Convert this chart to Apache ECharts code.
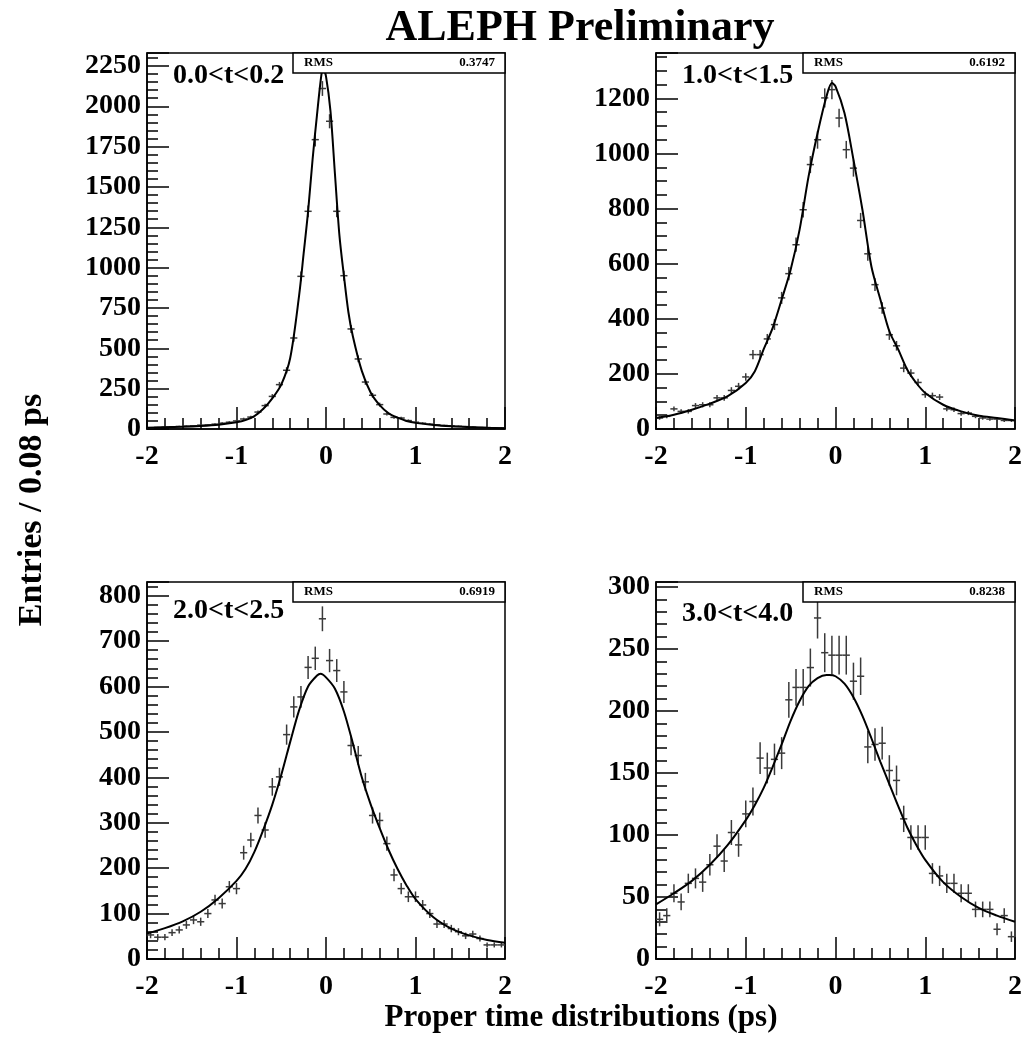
<!DOCTYPE html>
<html>
<head>
<meta charset="utf-8">
<title>ALEPH Preliminary</title>
<script src="https://cdn.jsdelivr.net/npm/echarts@6/dist/echarts.min.js"></script>
<style>
	html, body { margin: 0; padding: 0; background: #fff; }
	#main { width: 1025px; height: 1044px; }
</style>
</head>
<body>
<div id="main"></div>
<script>
// 直方图 bin 中心 (bin 宽 0.08 ps)
var binCenters = [-1.96, -1.88, -1.80, -1.72, -1.64, -1.56, -1.48, -1.40, -1.32, -1.24,
	-1.16, -1.08, -1.00, -0.92, -0.84, -0.76, -0.68, -0.60, -0.52, -0.44,
	-0.36, -0.28, -0.20, -0.12, -0.04, 0.04, 0.12, 0.20, 0.28, 0.36,
	0.44, 0.52, 0.60, 0.68, 0.76, 0.84, 0.92, 1.00, 1.08, 1.16,
	1.24, 1.32, 1.40, 1.48, 1.56, 1.64, 1.72, 1.80, 1.88, 1.96];

var panelLabels = ['0.0<t<0.2', '1.0<t<1.5', '2.0<t<2.5', '3.0<t<4.0'];
var rmsValues = ['0.3747', '0.6192', '0.6919', '0.8238'];

// 每个 bin 的计数
var entries1 = [8, 10, 12, 14, 16, 18, 20, 24, 26, 30,
	36, 42, 50, 62, 74, 105, 145, 202, 275, 364,
	564, 946, 1349, 1793, 2110, 1907, 1349, 950, 620, 434,
	291, 209, 151, 93, 72, 68, 52, 42, 36, 30,
	26, 22, 20, 17, 15, 12, 10, 9, 7, 6];
var entries2 = [40, 46, 73, 64, 64, 85, 88, 88, 113, 113,
	140, 155, 189, 270, 270, 327, 379, 476, 564, 669,
	796, 960, 1050, 1202, 1232, 1129, 1014, 947, 757, 636,
	524, 439, 342, 302, 221, 203, 169, 125, 121, 116,
	73, 70, 56, 58, 46, 40, 36, 36, 31, 31];
var entries3 = [53, 48, 48, 58, 64, 75, 86, 82, 100, 130,
	122, 159, 155, 234, 262, 316, 284, 379, 401, 494,
	555, 577, 642, 662, 749, 657, 635, 588, 470, 448,
	390, 316, 305, 254, 185, 155, 137, 137, 119, 100,
	77, 77, 67, 60, 51, 55, 45, 31, 31, 31];
var entries4 = [32, 35, 53, 46, 61, 65, 62, 76, 91, 79,
	102, 92, 117, 127, 162, 154, 161, 166, 209, 219,
	219, 235, 275, 247, 245, 245, 245, 224, 228, 171,
	173, 174, 152, 144, 113, 98, 98, 98, 69, 67,
	61, 61, 53, 53, 40, 40, 40, 24, 35, 18];

// 拟合曲线
var fitT1 = [-2, -1.8, -1.6, -1.4, -1.2, -1.0, -0.9, -0.8, -0.7, -0.6, -0.5, -0.4, -0.3, -0.25, -0.2, -0.15, -0.1, -0.05, -0.03,
	0, 0.05, 0.1, 0.15, 0.2, 0.25, 0.3, 0.4, 0.5, 0.6, 0.7, 0.8, 0.9, 1.0, 1.2, 1.4, 1.6, 1.8, 2.0];
var fitN1 = [8, 11, 14, 19, 27, 42, 55, 80, 125, 190, 275, 440, 830, 1087, 1349, 1670, 1950, 2200, 2231,
	2185, 1970, 1580, 1200, 950, 725, 575, 360, 225, 148, 97, 70, 50, 38, 25, 17, 12, 8, 5];
var fitT2 = [-2, -1.8, -1.6, -1.4, -1.2, -1.0, -0.9, -0.8, -0.7, -0.6, -0.5, -0.4, -0.3, -0.2, -0.1, -0.04,
	0, 0.1, 0.2, 0.3, 0.4, 0.5, 0.6, 0.7, 0.8, 0.9, 1.0, 1.2, 1.4, 1.6, 1.8, 2.0];
var fitN2 = [40, 52, 70, 92, 119, 167, 209, 290, 367, 470, 578, 724, 917, 1074, 1208, 1256,
	1244, 1147, 978, 796, 590, 470, 355, 288, 215, 167, 131, 88, 64, 48, 40, 31];
var fitT3 = [-2, -1.8, -1.6, -1.4, -1.2, -1.0, -0.9, -0.8, -0.7, -0.6, -0.5, -0.4, -0.3, -0.2, -0.1, -0.06,
	0, 0.1, 0.2, 0.3, 0.4, 0.5, 0.6, 0.7, 0.8, 0.9, 1.0, 1.2, 1.4, 1.6, 1.8, 2.0];
var fitN3 = [56, 68, 83, 104, 134, 172, 198, 236, 285, 340, 405, 478, 548, 600, 624, 628,
	620, 595, 545, 475, 400, 340, 288, 240, 198, 162, 132, 92, 67, 52, 42, 36];
var fitT4 = [-2, -1.8, -1.6, -1.4, -1.2, -1.0, -0.9, -0.8, -0.7, -0.6, -0.5, -0.4, -0.3, -0.2, -0.1, -0.07,
	0, 0.1, 0.2, 0.3, 0.4, 0.5, 0.6, 0.7, 0.8, 0.9, 1.0, 1.2, 1.4, 1.6, 1.8, 2.0];
var fitN4 = [44, 53, 63, 76, 92, 112, 124, 138, 155, 173, 192, 208, 220, 226.5, 229, 229,
	228, 222, 211, 196, 178, 159, 141, 123, 106, 92, 80, 62, 50, 41, 35, 30];

// y 轴范围与刻度
var yMax = [2330, 1365, 830, 304];
var yMajor = [250, 200, 100, 50];
var yMinor = [50, 50, 20, 10];

var entries = [entries1, entries2, entries3, entries4];
var fitT = [fitT1, fitT2, fitT3, fitT4];
var fitN = [fitN1, fitN2, fitN3, fitN4];

var font = 'Liberation Serif';

var grids = [
	{ left: 147, top: 53, width: 358, height: 376 },
	{ left: 656, top: 53, width: 359, height: 376 },
	{ left: 147, top: 582, width: 358, height: 377 },
	{ left: 656, top: 582, width: 359, height: 377 }
];
var labelDy = [23, 23, 29, 32];

var option = {
	backgroundColor: '#fff',
	animation: false,
	grid: [],
	xAxis: [],
	yAxis: [],
	series: [],
	graphic: []
};

function crossItem(params, api) {
	var x = api.value(0), y = api.value(1), e = api.value(2);
	var l = api.coord([x - 0.04, y]);
	var r = api.coord([x + 0.04, y]);
	var t = api.coord([x, y + e]);
	var b = api.coord([x, y - e]);
	var st = { stroke: '#3a3a3a', lineWidth: 1.5 };
	return {
		type: 'group',
		children: [
			{ type: 'line', shape: { x1: l[0], y1: l[1], x2: r[0], y2: r[1] }, style: st },
			{ type: 'line', shape: { x1: t[0], y1: t[1], x2: b[0], y2: b[1] }, style: st }
		]
	};
}

for (var i = 0; i < 4; i++) {
	var g = grids[i];
	option.grid.push({
		left: g.left, top: g.top, width: g.width, height: g.height,
		show: true, borderColor: '#000', borderWidth: 1.5, backgroundColor: 'transparent'
	});

	option.xAxis.push({
		gridIndex: i, type: 'value', min: -2, max: 2, interval: 1,
		axisLine: { show: true, onZero: false, lineStyle: { color: '#000', width: 1.5 } },
		axisTick: { show: true, inside: true, length: 22, lineStyle: { color: '#000', width: 1.5 } },
		minorTick: { show: true, splitNumber: 5, length: 11, lineStyle: { color: '#000', width: 1.5 } },
		splitLine: { show: false },
		minorSplitLine: { show: false },
		axisLabel: { color: '#000', fontFamily: font, fontWeight: 'bold', fontSize: 28, margin: 14 }
	});

	(function (major) {
		option.yAxis.push({
			gridIndex: i, type: 'value', position: 'left', min: 0, max: yMax[i], interval: major,
			axisLine: { show: true, onZero: false, lineStyle: { color: '#000', width: 1.5 } },
			axisTick: { show: true, inside: true, length: 22, lineStyle: { color: '#000', width: 1.5 } },
			splitLine: { show: false },
			axisLabel: {
				color: '#000', fontFamily: font, fontWeight: 'bold', fontSize: 28, margin: 6,
				formatter: function (v) { return v % major === 0 ? String(v) : ''; }
			}
		});
	})(yMajor[i]);

	// 次刻度
	option.yAxis.push({
		gridIndex: i, type: 'value', position: 'left', offset: 0, min: 0, max: yMax[i], interval: yMinor[i],
		axisLine: { show: false, onZero: false },
		axisTick: { show: true, inside: true, length: 11, lineStyle: { color: '#000', width: 1.5 } },
		splitLine: { show: false },
		axisLabel: { show: false }
	});

	var pts = [];
	for (var k = 0; k < binCenters.length; k++) {
		pts.push([binCenters[k], entries[i][k], Math.sqrt(entries[i][k])]);
	}
	option.series.push({
		type: 'custom',
		xAxisIndex: i,
		yAxisIndex: 2 * i,
		encode: { x: 0, y: 1 },
		renderItem: crossItem,
		data: pts,
		z: 2
	});

	var fit = [];
	for (var m = 0; m < fitT[i].length; m++) {
		fit.push([fitT[i][m], fitN[i][m]]);
	}
	option.series.push({
		type: 'line',
		xAxisIndex: i,
		yAxisIndex: 2 * i,
		data: fit,
		smooth: 0.3,
		showSymbol: false,
		symbol: 'none',
		lineStyle: { color: '#000', width: 2 },
		z: 3
	});

	// 标签与 RMS 框
	option.graphic.push({
		type: 'text', x: g.left + 26, y: g.top + labelDy[i], z: 10,
		style: {
			text: panelLabels[i], fill: '#000', fontFamily: font, fontWeight: 'bold', fontSize: 28,
			textAlign: 'left', textVerticalAlign: 'middle'
		}
	});
	option.graphic.push({
		type: 'rect', z: 10,
		shape: { x: g.left + g.width - 212, y: g.top, width: 212, height: 20 },
		style: { fill: '#fff', stroke: '#000', lineWidth: 1.5 }
	});
	option.graphic.push({
		type: 'text', x: g.left + g.width - 201, y: g.top + 10, z: 11,
		style: {
			text: 'RMS', fill: '#000', fontFamily: font, fontWeight: 'bold', fontSize: 13,
			textAlign: 'left', textVerticalAlign: 'middle'
		}
	});
	option.graphic.push({
		type: 'text', x: g.left + g.width - 10, y: g.top + 10, z: 11,
		style: {
			text: rmsValues[i], fill: '#000', fontFamily: font, fontWeight: 'bold', fontSize: 13,
			textAlign: 'right', textVerticalAlign: 'middle'
		}
	});
}

// 总标题与坐标轴标题
option.graphic.push({
	type: 'text', x: 580, y: 29, z: 10,
	style: {
		text: 'ALEPH Preliminary', fill: '#000', fontFamily: font, fontWeight: 'bold', fontSize: 44,
		textAlign: 'center', textVerticalAlign: 'middle'
	}
});
option.graphic.push({
	type: 'text', x: 581, y: 1018, z: 10,
	style: {
		text: 'Proper time distributions (ps)', fill: '#000', fontFamily: font, fontWeight: 'bold', fontSize: 31,
		textAlign: 'center', textVerticalAlign: 'middle'
	}
});
option.graphic.push({
	type: 'text', x: 32, y: 510, rotation: Math.PI / 2, z: 10,
	style: {
		text: 'Entries / 0.08 ps', fill: '#000', fontFamily: font, fontWeight: 'bold', fontSize: 34,
		textAlign: 'center', textVerticalAlign: 'middle'
	}
});

var chart = echarts.init(document.getElementById('main'));
chart.setOption(option);
</script>
</body>
</html>
